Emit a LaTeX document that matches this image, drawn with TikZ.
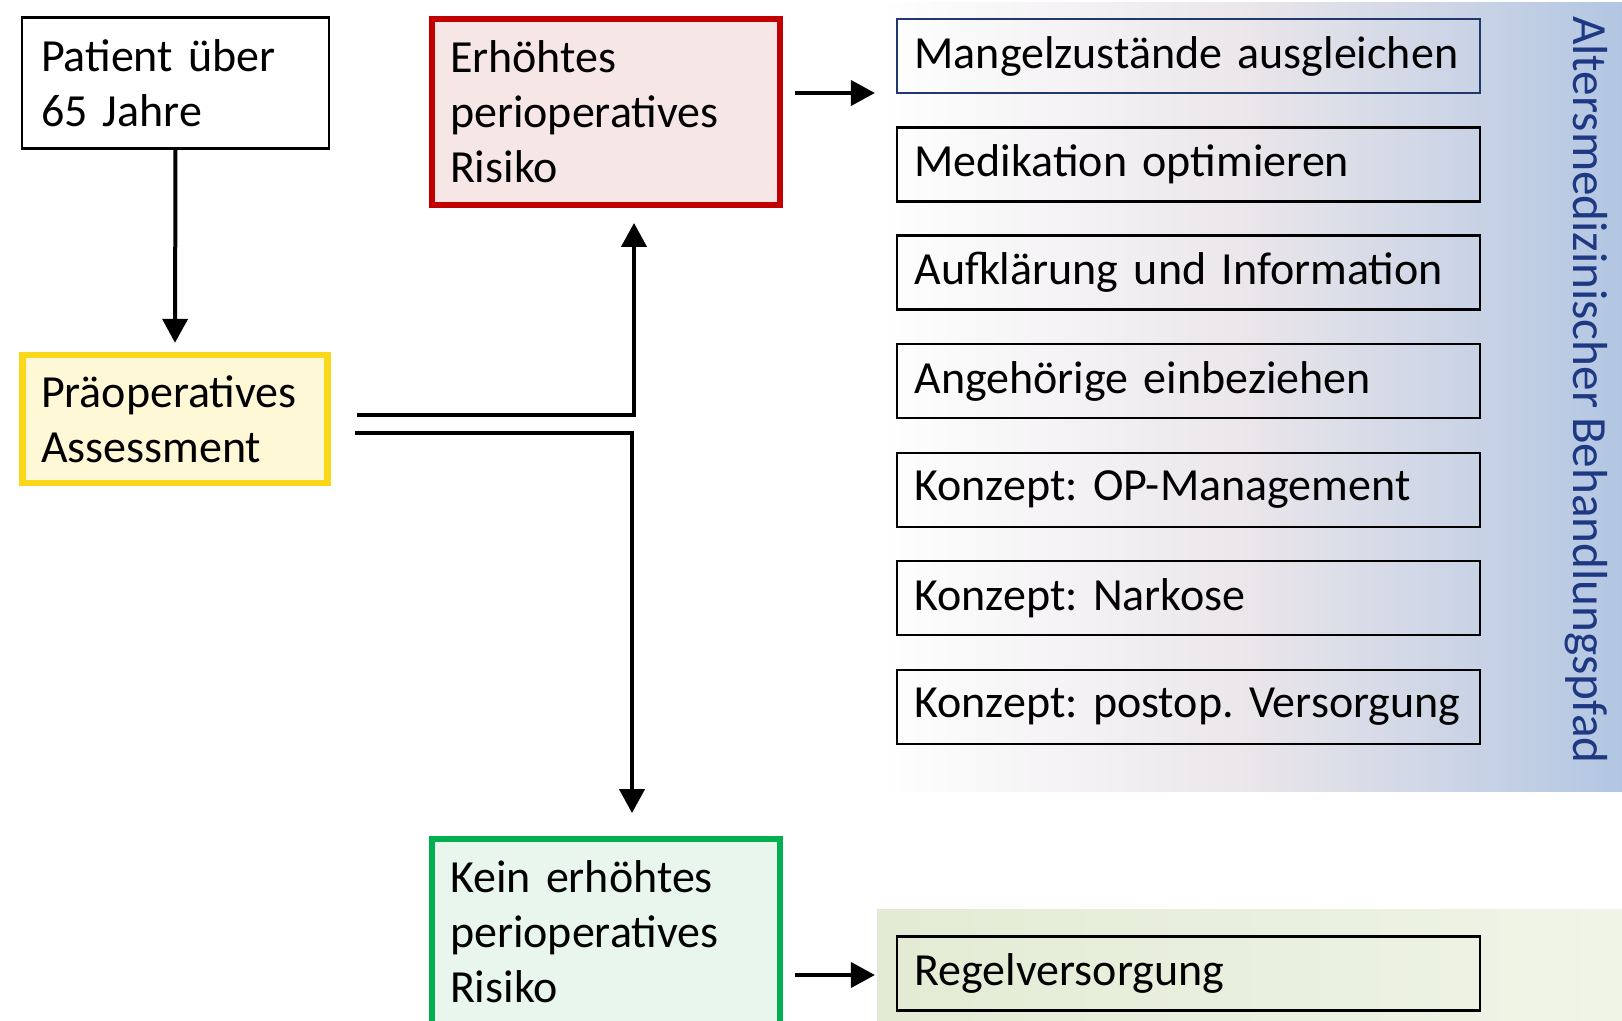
\documentclass[tikz,border=0pt]{standalone}
\usepackage{fontspec}
\setmainfont{Carlito}[WordSpace=0.8]
\usetikzlibrary{arrows.meta,positioning}
\frenchspacing

\definecolor{assessyellow}{RGB}{250,215,25}
\definecolor{assessfill}{RGB}{255,248,214}
\definecolor{riskred}{RGB}{192,0,0}
\definecolor{riskfill}{RGB}{247,230,230}
\definecolor{safegreen}{RGB}{0,176,80}
\definecolor{safefill}{RGB}{232,246,238}
\definecolor{itemblue}{RGB}{32,56,110}
\definecolor{labelblue}{RGB}{31,56,130}
\definecolor{bandblue}{RGB}{178,198,226}
\definecolor{bandgrey}{RGB}{234,230,234}
\definecolor{bandgreen}{RGB}{227,235,212}

\begin{document}
\begin{tikzpicture}[x=0.5pt,y=-0.5pt,font=\fontsize{23}{27.5}\selectfont,
  box/.style={draw,line width=1.1pt,align=left,inner ysep=2pt},
  item/.style={box,text width=274pt,minimum height=37pt,inner xsep=8.75pt},
  arr/.style={line width=2pt,-{Triangle[length=12pt,width=12.5pt]}}]
\useasboundingbox (0,0) rectangle (1622,1021);
\clip (0,0) rectangle (1622,1021);

% background bands
\shade[left color=white,right color=bandblue,middle color=bandgrey] (879,3) rectangle (1622,791);
\shade[left color=bandgreen,right color=bandgreen!55!white] (877,909) rectangle (1622,1021);

% left column
\node[box,text width=134.5pt,minimum height=65.5pt,inner xsep=9.5pt] (patient) at (175.5,83) {Patient über\\65 Jahre};
\node[box,draw=assessyellow,fill=assessfill,line width=3.2pt,text width=134pt,minimum height=64pt,inner xsep=9.3pt] (assess) at (175,419) {Präoperatives\\Assessment};

% risk boxes
\node[box,draw=riskred,fill=riskfill,line width=3.2pt,text width=156pt,minimum height=92.75pt,inner xsep=9pt] (risk) at (606,112) {Erhöhtes\\perioperatives\\Risiko};
\node[box,draw=safegreen,fill=safefill,line width=3.2pt,text width=156pt,minimum height=92.75pt,inner xsep=9pt] (norisk) at (606,932) {Kein erhöhtes\\perioperatives\\Risiko};

% measures of the pathway
\node[item,draw=itemblue] (m1) at (1188.5,56) {Mangelzustände ausgleichen};
\node[item] (m2) at (1188.5,164.5) {Medikation optimieren};
\node[item] (m3) at (1188.5,272.5) {Aufklärung und Information};
\node[item] (m4) at (1188.5,381) {Angehörige einbeziehen};
\node[item] (m5) at (1188.5,490) {Konzept: OP-Management};
\node[item] (m6) at (1188.5,598) {Konzept: Narkose};
\node[item] (m7) at (1188.5,707) {Konzept: postop. Versorgung};
\node[item] (regel) at (1188.5,973.5) {Regelversorgung};

\node[rotate=-90,text=labelblue,inner sep=0pt,font=\fontsize{24.6}{29}\selectfont] (pfad) at (1586,390) {Altersmedizinischer Behandlungspfad};

% connectors
\draw[arr] (patient.south) -- ([yshift=4.5pt]assess.north);
\draw[arr] ([xshift=13pt,yshift=2pt]assess.east) -| ([xshift=14pt,yshift=-7.5pt]risk.south);
\draw[arr] ([xshift=12pt,yshift=-7pt]assess.east) -| ([xshift=13pt,yshift=11.5pt]norisk.north);
\draw[arr] ([xshift=6pt,yshift=9.5pt]risk.east) -- ([xshift=-10.5pt,yshift=-18.5pt]m1.west);
\draw[arr] ([xshift=6pt,yshift=-21.5pt]norisk.east) -- ([xshift=-10.5pt,yshift=-0.75pt]regel.west);
\end{tikzpicture}
\end{document}
